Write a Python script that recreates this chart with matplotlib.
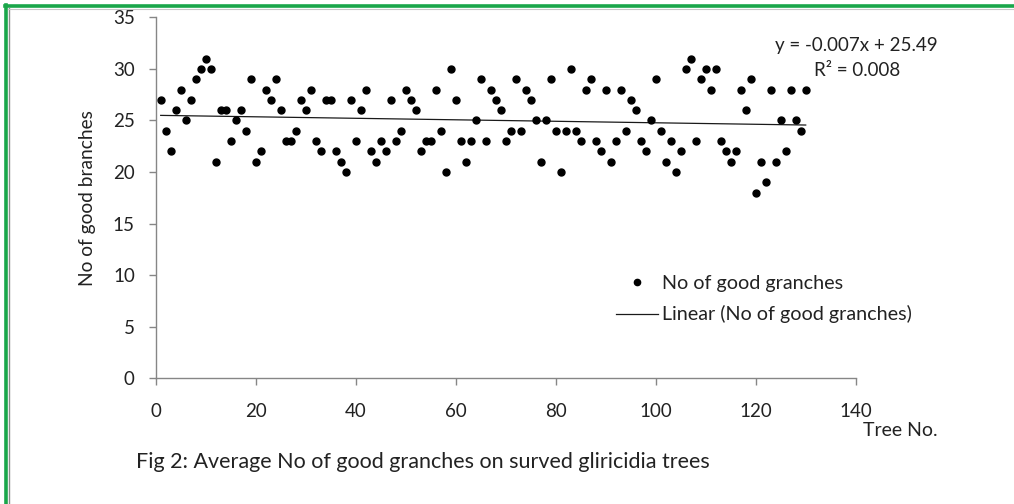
import matplotlib.pyplot as plt
import numpy as np
from matplotlib.lines import Line2D

plt.rcParams['font.family'] = ['Lato', 'DejaVu Sans']

# tree number and number of good branches
tree_no = np.arange(1, 131)
branches = [27, 24, 22, 26, 28, 25, 27, 29, 30, 31,
            30, 21, 26, 26, 23, 25, 26, 24, 29, 21,
            22, 28, 27, 29, 26, 23, 23, 24, 27, 26,
            28, 23, 22, 27, 27, 22, 21, 20, 27, 23,
            26, 28, 22, 21, 23, 22, 27, 23, 24, 28,
            27, 26, 22, 23, 23, 28, 24, 20, 30, 27,
            23, 21, 23, 25, 29, 23, 28, 27, 26, 23,
            24, 29, 24, 28, 27, 25, 21, 25, 29, 24,
            20, 24, 30, 24, 23, 28, 29, 23, 22, 28,
            21, 23, 28, 24, 27, 26, 23, 22, 25, 29,
            24, 21, 23, 20, 22, 30, 31, 23, 29, 30,
            28, 30, 23, 22, 21, 22, 28, 26, 29, 18,
            21, 19, 28, 21, 25, 22, 28, 25, 24, 28]

x_ticks = [0, 20, 40, 60, 80, 100, 120, 140]
y_ticks = [0, 5, 10, 15, 20, 25, 30, 35]

fig = plt.figure(figsize=(10.14, 5.04), dpi=100)
ax = fig.add_axes([155.7 / 1014, 1 - 378.3 / 504, 700 / 1014, 361 / 504])

ax.plot(tree_no, branches, 'o', color='black', ms=5, zorder=3,
        label='No of good granches')

# linear trendline (Excel style)
k, b = np.polyfit(tree_no, branches, 1)
xs = np.array([tree_no[0], tree_no[-1]])
ax.plot(xs, k * xs + b, color='#1a1a1a', lw=0.9, zorder=2,
        label='Linear (No of good granches)')

ax.set_xlim(0, 140)
ax.set_ylim(0, 35)
ax.set_xticks(x_ticks)
ax.set_yticks(y_ticks)

for s in ['top', 'right']:
    ax.spines[s].set_visible(False)
for s in ['left', 'bottom']:
    ax.spines[s].set_color('#868686')
    ax.spines[s].set_linewidth(1.0)
ax.tick_params(axis='both', colors='#868686', labelcolor='#222222',
               labelsize=13.5, length=5, width=1.0, direction='out')
ax.tick_params(axis='x', pad=13)
ax.tick_params(axis='y', pad=10)

ax.set_ylabel('No of good branches', fontsize=13.8, color='#222222', labelpad=12)

fig.text(863 / 1014, 1 - 431 / 504, 'Tree No.', fontsize=14, color='#222222',
         ha='left', va='center')

fig.text(856 / 1014, 1 - 46 / 504, 'y = -0.007x + 25.49', fontsize=13.5,
         color='#222222', ha='center', va='center')
fig.text(857 / 1014, 1 - 70 / 504, 'R² = 0.008', fontsize=13.5,
         color='#222222', ha='center', va='center')

handles = [Line2D([], [], ls='none', marker='o', color='black', ms=4.5),
           Line2D([], [], color='#1a1a1a', lw=0.9)]
fig.legend(handles, ['No of good granches', 'Linear (No of good granches)'],
           loc='upper left', bbox_to_anchor=(616 / 1014, 1 - 275 / 504),
           frameon=False, fontsize=14.2, handlelength=2.15, handletextpad=0.2,
           labelspacing=0.68, borderpad=0, borderaxespad=0, labelcolor='#222222')

fig.text(136 / 1014, 1 - 462 / 504,
         'Fig 2: Average No of good granches on surved gliricidia trees',
         fontsize=15.5, color='#222222', ha='left', va='center')

# green frame on top and left, with thin grey line inside
fig.add_artist(Line2D([5.5 / 1014, 5.5 / 1014], [0, 1 - 5 / 504],
                      color='#1aa64a', lw=2.6))
fig.add_artist(Line2D([5 / 1014, 1], [1 - 5.5 / 504, 1 - 5.5 / 504],
                      color='#1aa64a', lw=2.6))
fig.add_artist(Line2D([8.5 / 1014, 8.5 / 1014], [0, 1 - 8 / 504],
                      color='#8c8c8c', lw=1.0))
fig.add_artist(Line2D([8 / 1014, 1], [1 - 8.5 / 504, 1 - 8.5 / 504],
                      color='#c8c8c8', lw=0.8))

fig.savefig('out.png', dpi=100)
